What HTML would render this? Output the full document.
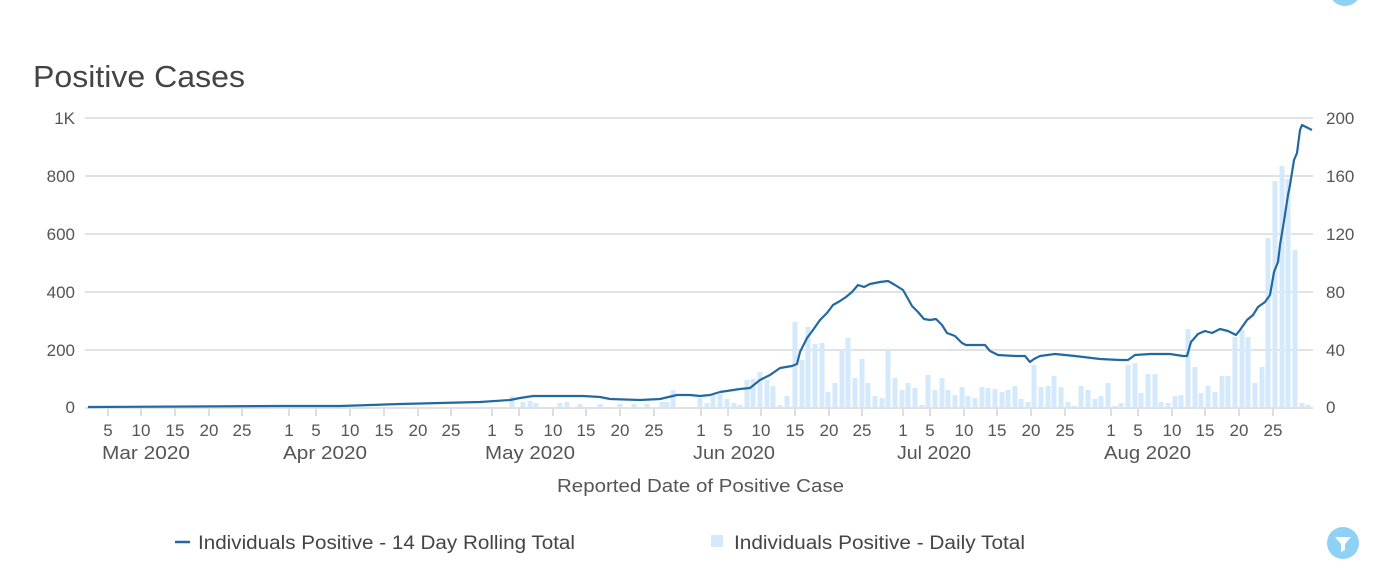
<!DOCTYPE html>
<html><head><meta charset="utf-8"><style>
html,body{margin:0;padding:0;background:#fff;}
body{width:1398px;height:580px;overflow:hidden;position:relative;font-family:"Liberation Sans",sans-serif;}
</style></head><body>
<svg width="1398" height="580" xmlns="http://www.w3.org/2000/svg" style="position:absolute;left:0;top:0">
<circle cx="1345" cy="-10" r="16" fill="#8fd0f5"/>
<text x="33" y="87" font-size="31" fill="#444" textLength="212" lengthAdjust="spacingAndGlyphs">Positive Cases</text>
<g stroke="#d8d8d8" stroke-width="1.5">
<line x1="85" x2="1313" y1="118" y2="118"/><line x1="85" x2="1313" y1="176" y2="176"/>
<line x1="85" x2="1313" y1="234" y2="234"/><line x1="85" x2="1313" y1="292" y2="292"/>
<line x1="85" x2="1313" y1="350" y2="350"/><line x1="85" x2="1313" y1="408" y2="408"/>
</g>
<g font-size="17" fill="#555" text-anchor="end">
<text x="75" y="124">1K</text><text x="75" y="182">800</text><text x="75" y="240">600</text>
<text x="75" y="298">400</text><text x="75" y="356">200</text><text x="75" y="413">0</text>
</g>
<g font-size="17" fill="#555">
<text x="1326" y="124">200</text><text x="1326" y="182">160</text><text x="1326" y="240">120</text>
<text x="1326" y="298">80</text><text x="1326" y="356">40</text><text x="1326" y="413">0</text>
</g>
<path fill="#d4eafc" d="
M509.5 396h5V407h-5Z M520.5 402h5V407h-5Z M527.5 401h5V407h-5Z M533.5 403h5V407h-5Z M557.5 403h5V407h-5Z M564.5 402h5V407h-5Z M577.5 404h5V407h-5Z M597.5 404h5V407h-5Z M617.5 404h5V407h-5Z M631.5 404h5V407h-5Z M644.5 404h5V407h-5Z M659.5 402h5V407h-5Z M664.5 402h5V407h-5Z M670.5 390h5V407h-5Z
M697.5 398h5V407h-5Z M704.5 403h5V407h-5Z M710.5 395h5V407h-5Z M717.5 394h5V407h-5Z M724.5 399h5V407h-5Z M731.5 403h5V407h-5Z M737.5 405h5V407h-5Z M744.5 380h5V407h-5Z M750.5 379h5V407h-5Z M757.5 372h5V407h-5Z M764.5 380h5V407h-5Z M770.5 386h5V407h-5Z M777.5 405h5V407h-5Z M784.5 396h5V407h-5Z M792.5 322h5V407h-5Z M799.5 360h5V407h-5Z M805.5 327h5V407h-5Z M812.5 344h5V407h-5Z M819.5 343h5V407h-5Z M825.5 392h5V407h-5Z M832.5 383h5V407h-5Z M839.5 349h5V407h-5Z M845.5 338h5V407h-5Z M852.5 378h5V407h-5Z M859.5 359h5V407h-5Z M865.5 383h5V407h-5Z M872.5 396h5V407h-5Z M879.5 398h5V407h-5Z M885.5 349h5V407h-5Z M892.5 378h5V407h-5Z M899.5 390h5V407h-5Z M905.5 383h5V407h-5Z M912.5 388h5V407h-5Z M919.5 405h5V407h-5Z M925.5 375h5V407h-5Z M932.5 390h5V407h-5Z M939.5 378h5V407h-5Z M945.5 390h5V407h-5Z M952.5 395h5V407h-5Z M959.5 387h5V407h-5Z M965.5 396h5V407h-5Z M972.5 398h5V407h-5Z M979.5 387h5V407h-5Z M985.5 388h5V407h-5Z
M992.5 389h5V407h-5Z M999.5 392h5V407h-5Z M1005.5 390h5V407h-5Z M1012.5 386h5V407h-5Z M1018.5 399h5V407h-5Z M1025.5 402h5V407h-5Z M1031.5 365h5V407h-5Z M1038.5 387h5V407h-5Z M1045.5 386h5V407h-5Z M1051.5 376h5V407h-5Z M1058.5 387h5V407h-5Z M1065.5 402h5V407h-5Z M1071.5 406h5V407h-5Z M1078.5 386h5V407h-5Z M1085.5 390h5V407h-5Z
M1092.5 399h5V407h-5Z M1098.5 396h5V407h-5Z M1105.5 383h5V407h-5Z M1112.5 406h5V407h-5Z M1118.5 403h5V407h-5Z M1125.5 365h5V407h-5Z M1132.5 363h5V407h-5Z M1138.5 393h5V407h-5Z M1145.5 374h5V407h-5Z M1152.5 374h5V407h-5Z M1158.5 402h5V407h-5Z M1165.5 403h5V407h-5Z M1172.5 396h5V407h-5Z M1178.5 395h5V407h-5Z M1185.5 329h5V407h-5Z M1192.5 367h5V407h-5Z M1198.5 393h5V407h-5Z M1205.5 386h5V407h-5Z M1212.5 392h5V407h-5Z M1219.5 376h5V407h-5Z M1225.5 376h5V407h-5Z M1232.5 337h5V407h-5Z M1239.5 330h5V407h-5Z M1245.5 337h5V407h-5Z M1252.5 383h5V407h-5Z M1259.5 367h5V407h-5Z M1265.5 238h5V407h-5Z M1272.5 181h5V407h-5Z M1279.5 166h5V407h-5Z M1285.5 179h5V407h-5Z M1292.5 250h5V407h-5Z M1299.5 403h5V407h-5Z M1305.5 405h5V407h-5Z"/>
<polyline fill="none" stroke="#2369a1" stroke-width="2.2" stroke-linejoin="round" points="88,407 280,406 340,406 400,404 440,403 480,402 510,400 520,398 533,396 560,396 583,396 600,397 610,399 640,400 660,399 677,395 690,395 700,396 710,395 720,392 740,389 750,388 760,380 770,375 780,368 792,366 797,364 800,352 807,338 813,330 820,320 827,313 833,305 840,301 846,297 852,292 858,285 864,287 870,284 880,282 888,281 895,285 903,290 907,297 912,306 918,312 924,319 930,320 936,319 942,325 947,333 955,336 962,343 966,345 985,345 990,351 998,355 1015,356 1025,356 1030,362 1034,359 1040,356 1055,354 1075,356 1100,359 1120,360 1128,360 1135,355 1150,354 1170,354 1183,356 1187,356 1191,342 1198,334 1205,331 1212,333 1220,329 1228,331 1236,335 1240,330 1247,320 1253,315 1258,307 1265,302 1270,295 1274,272 1278,262 1280,245 1284,221 1288,195 1290,185 1294,160 1297,153 1300,130 1302,125 1312,130"/>
<g stroke="#ccc" stroke-width="1.3">
<line x1="108" x2="108" y1="409" y2="416"/><line x1="141" x2="141" y1="409" y2="416"/><line x1="175" x2="175" y1="409" y2="416"/><line x1="209" x2="209" y1="409" y2="416"/><line x1="242" x2="242" y1="409" y2="416"/>
<line x1="289" x2="289" y1="409" y2="416"/><line x1="316" x2="316" y1="409" y2="416"/><line x1="350" x2="350" y1="409" y2="416"/><line x1="384" x2="384" y1="409" y2="416"/><line x1="418" x2="418" y1="409" y2="416"/><line x1="451" x2="451" y1="409" y2="416"/>
<line x1="492" x2="492" y1="409" y2="416"/><line x1="519" x2="519" y1="409" y2="416"/><line x1="553" x2="553" y1="409" y2="416"/><line x1="586" x2="586" y1="409" y2="416"/><line x1="620" x2="620" y1="409" y2="416"/><line x1="654" x2="654" y1="409" y2="416"/>
<line x1="701" x2="701" y1="409" y2="416"/><line x1="728" x2="728" y1="409" y2="416"/><line x1="761" x2="761" y1="409" y2="416"/><line x1="795" x2="795" y1="409" y2="416"/><line x1="829" x2="829" y1="409" y2="416"/><line x1="862" x2="862" y1="409" y2="416"/>
<line x1="903" x2="903" y1="409" y2="416"/><line x1="930" x2="930" y1="409" y2="416"/><line x1="964" x2="964" y1="409" y2="416"/><line x1="997" x2="997" y1="409" y2="416"/><line x1="1031" x2="1031" y1="409" y2="416"/><line x1="1065" x2="1065" y1="409" y2="416"/>
<line x1="1111" x2="1111" y1="409" y2="416"/><line x1="1138" x2="1138" y1="409" y2="416"/><line x1="1172" x2="1172" y1="409" y2="416"/><line x1="1205" x2="1205" y1="409" y2="416"/><line x1="1239" x2="1239" y1="409" y2="416"/><line x1="1273" x2="1273" y1="409" y2="416"/>
</g>
<g font-size="17" fill="#555" text-anchor="middle">
<text x="108" y="436">5</text><text x="141" y="436">10</text><text x="175" y="436">15</text><text x="209" y="436">20</text><text x="242" y="436">25</text>
<text x="289" y="436">1</text><text x="316" y="436">5</text><text x="350" y="436">10</text><text x="384" y="436">15</text><text x="418" y="436">20</text><text x="451" y="436">25</text>
<text x="492" y="436">1</text><text x="519" y="436">5</text><text x="553" y="436">10</text><text x="586" y="436">15</text><text x="620" y="436">20</text><text x="654" y="436">25</text>
<text x="701" y="436">1</text><text x="728" y="436">5</text><text x="761" y="436">10</text><text x="795" y="436">15</text><text x="829" y="436">20</text><text x="862" y="436">25</text>
<text x="903" y="436">1</text><text x="930" y="436">5</text><text x="964" y="436">10</text><text x="997" y="436">15</text><text x="1031" y="436">20</text><text x="1065" y="436">25</text>
<text x="1111" y="436">1</text><text x="1138" y="436">5</text><text x="1172" y="436">10</text><text x="1205" y="436">15</text><text x="1239" y="436">20</text><text x="1273" y="436">25</text>
</g>
<g font-size="18" fill="#555">
<text x="102" y="459" textLength="88" lengthAdjust="spacingAndGlyphs">Mar 2020</text>
<text x="283" y="459" textLength="84" lengthAdjust="spacingAndGlyphs">Apr 2020</text>
<text x="485" y="459" textLength="90" lengthAdjust="spacingAndGlyphs">May 2020</text>
<text x="693" y="459" textLength="82" lengthAdjust="spacingAndGlyphs">Jun 2020</text>
<text x="897" y="459" textLength="74" lengthAdjust="spacingAndGlyphs">Jul 2020</text>
<text x="1104" y="459" textLength="87" lengthAdjust="spacingAndGlyphs">Aug 2020</text>
</g>
<text x="557" y="492" font-size="18" fill="#555" textLength="287" lengthAdjust="spacingAndGlyphs">Reported Date of Positive Case</text>
<line x1="175" x2="190" y1="542" y2="542" stroke="#2369a1" stroke-width="2.5"/>
<text x="198" y="549" font-size="19" fill="#444" textLength="377" lengthAdjust="spacingAndGlyphs">Individuals Positive - 14 Day Rolling Total</text>
<rect x="711" y="535" width="12" height="12" fill="#d4eafc"/>
<text x="734" y="549" font-size="19" fill="#444" textLength="291" lengthAdjust="spacingAndGlyphs">Individuals Positive - Daily Total</text>
<circle cx="1343" cy="543" r="16" fill="#8fd0f5"/>
<path d="M1335 537h16l-6 7v6l-4 2v-8z" fill="#fff"/>
</svg>
</body></html>
